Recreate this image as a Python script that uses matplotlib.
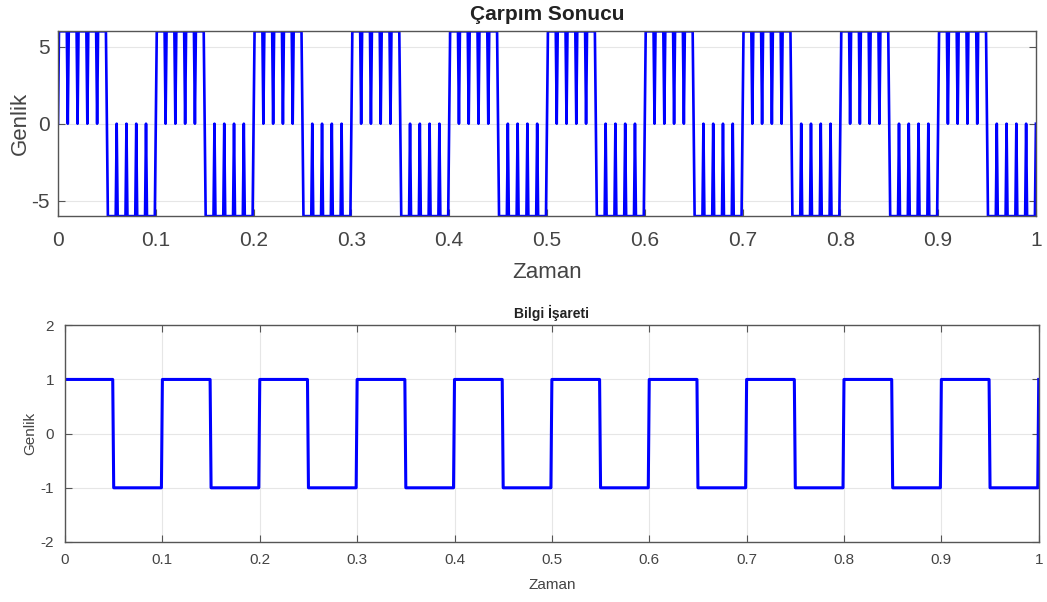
import matplotlib
matplotlib.use("Agg")
import matplotlib.pyplot as plt
import numpy as np

plt.rcParams['font.family'] = ['Liberation Sans', 'DejaVu Sans']
plt.rcParams['axes.unicode_minus'] = False

# bilgi isareti: her 0.05 s'lik dilimin seviyesi (son dilim sadece t=1 noktasi)
dilim_suresi = 0.05
bilgi_seviye = [1, -1, 1, -1, 1, -1, 1, -1, 1, -1,
                1, -1, 1, -1, 1, -1, 1, -1, 1, -1, 1]
# tasiyici: bir periyottaki ornekler (1 ms aralikla)
ornek_araligi = 0.001
tasiyici_periyot = [0, 6, 6, 6, 6, 6, 6, 6, 6, 6]

x_ticks = [0, 0.1, 0.2, 0.3, 0.4, 0.5, 0.6, 0.7, 0.8, 0.9, 1]
x_ticklabels = ['0', '0.1', '0.2', '0.3', '0.4', '0.5', '0.6', '0.7', '0.8', '0.9', '1']

n = int(round(1 / ornek_araligi)) + 1
t = np.arange(n) * ornek_araligi
adim = int(round(dilim_suresi / ornek_araligi))
bilgi = np.repeat(bilgi_seviye, adim)[:n]
tasiyici = np.tile(tasiyici_periyot, n // len(tasiyici_periyot) + 1)[:n]
carpim = bilgi * tasiyici

yazi = '#444444'
kenar = '#555555'

fig = plt.figure(figsize=(10.47, 6.02), dpi=100)

def duzenle(ax, tick_size, pad):
    ax.grid(True, color='#e6e6e6', linewidth=0.8)
    ax.set_axisbelow(True)
    ax.tick_params(direction='in', top=True, right=True, labelsize=tick_size,
                   colors=kenar, labelcolor=yazi, length=5, pad=pad)
    for s in ax.spines.values():
        s.set_color(kenar)
        s.set_linewidth(1.0)

# ust grafik
ax1 = fig.add_axes([0.0554, 0.641, 0.934, 0.307])
ax1.plot(t, carpim, color=(0, 0, 1), linewidth=1.9)
ax1.set_xlim(0, 1)
ax1.set_ylim(-6, 6)
ax1.set_xticks(x_ticks)
ax1.set_xticklabels(x_ticklabels)
ax1.set_yticks([-5, 0, 5])
duzenle(ax1, 15, 11)
ax1.tick_params(axis='y', pad=6)
ax1.set_title('Çarpım Sonucu', fontsize=15, fontweight='bold', color='#222222', pad=8)
ax1.set_xlabel('Zaman', fontsize=16, color=yazi, labelpad=8)
ax1.set_ylabel('Genlik', fontsize=16, color=yazi)
ax1.yaxis.set_label_coords(-0.028, 0.5)

# alt grafik
ax2 = fig.add_axes([0.0621, 0.0997, 0.930, 0.360])
ax2.plot(t, bilgi, color=(0, 0, 1), linewidth=2.2)
ax2.set_xlim(0, 1)
ax2.set_ylim(-2, 2)
ax2.set_xticks(x_ticks)
ax2.set_xticklabels(x_ticklabels)
ax2.set_yticks([-2, -1, 0, 1, 2])
duzenle(ax2, 11, 8)
ax2.set_title('Bilgi İşareti', fontsize=10, fontweight='bold', color='#222222', pad=5)
ax2.set_xlabel('Zaman', fontsize=11, color=yazi, labelpad=8)
ax2.set_ylabel('Genlik', fontsize=11, color=yazi)
ax2.yaxis.set_label_coords(-0.029, 0.5)

fig.savefig('out.png', dpi=100)
